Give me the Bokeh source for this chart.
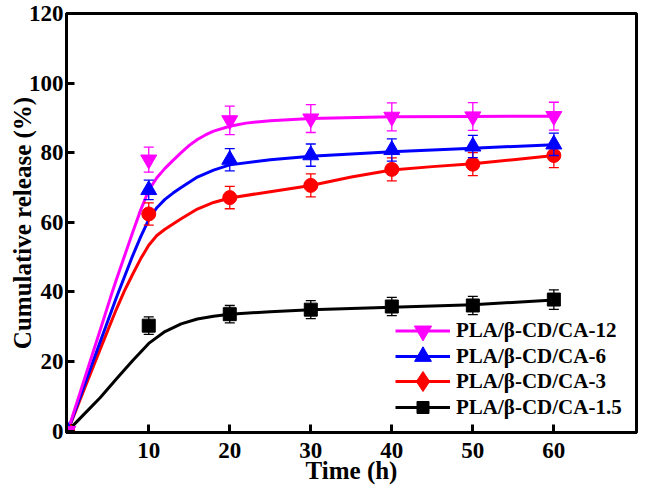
from bokeh.plotting import figure
from bokeh.models import ColumnDataSource, Legend, LegendItem, FixedTicker, Range1d
from bokeh.embed import file_html
from bokeh.resources import INLINE

# ---- measured points (time in h, cumulative release in %) ----
time_pts = [0, 10, 20, 30, 40, 50, 60]
ca12 = [0, 78.0, 89.3, 89.8, 90.3, 90.4, 90.5]
ca12_err = [0, 3.6, 4.1, 4.0, 4.0, 4.0, 4.0]
ca6 = [0, 69.3, 78.0, 79.3, 80.8, 81.8, 82.4]
ca6_err = [0, 2.8, 3.2, 3.2, 3.2, 3.2, 3.2]
ca3 = [0, 62.4, 67.1, 70.6, 75.2, 76.7, 79.2]
ca3_err = [0, 3.2, 3.2, 3.3, 3.3, 3.3, 3.5]
ca15 = [0, 30.3, 33.6, 34.9, 35.8, 36.1, 37.8]
ca15_err = [0, 2.5, 2.5, 2.6, 2.6, 2.6, 2.8]

# ---- fitted curves ----
fit12_t = [0, 2, 4, 5.5, 6, 8, 9, 10, 11, 12, 13, 14, 15, 16, 17, 18, 20, 22, 25, 30, 40, 50, 60]
fit12_y = [0, 14.5, 29, 40, 43.5, 57, 63.5, 69.2, 72.8, 75.5, 77.8, 80, 82.1, 83.8, 85.1, 86.2, 87.6, 88.5, 89.2, 89.8, 90.3, 90.4, 90.5]
fit6_t = [0, 2, 4, 6, 8, 9, 10, 11, 12, 13, 14, 16, 18, 20, 25, 30, 40, 50, 60]
fit6_y = [0, 12.8, 25.6, 38.3, 50.3, 55.8, 60.8, 64.2, 66.6, 68.4, 70, 73, 75, 76.5, 78, 79, 80.3, 81.3, 82.3]
fit3_t = [0, 2, 4, 6, 7, 8, 9, 10, 11, 12, 13, 14, 16, 18, 20, 25, 30, 35, 40, 45, 50, 55, 60]
fit3_y = [0, 11.8, 23.5, 35, 40.3, 45, 49.5, 53.4, 56.2, 58, 59.5, 61, 63.8, 65.7, 67, 68.8, 70.6, 73, 75, 76, 76.8, 78, 79.2]
fit15_t = [0, 2, 4, 6, 8, 10, 12, 14, 16, 18, 20, 25, 30, 40, 50, 60]
fit15_y = [0, 4.8, 9.6, 15, 20.2, 25.2, 28.6, 30.8, 32.2, 33, 33.6, 34.3, 34.9, 35.6, 36.3, 37.7]

x_ticks = [10, 20, 30, 40, 50, 60]
y_ticks = [0, 20, 40, 60, 80, 100, 120]
labels = ["PLA/\u03b2-CD/CA-12", "PLA/\u03b2-CD/CA-6", "PLA/\u03b2-CD/CA-3", "PLA/\u03b2-CD/CA-1.5"]

FONT = "Liberation Serif"

p = figure(width=638, height=486, output_backend="svg", toolbar_location=None,
           x_range=Range1d(-0.15, 70.2), y_range=Range1d(-0.4, 120),
           min_border_left=66, min_border_right=2, min_border_top=13, min_border_bottom=51)
p.background_fill_color = "white"
p.border_fill_color = "white"
p.outline_line_color = "black"
p.outline_line_width = 3
p.xgrid.visible = False
p.ygrid.visible = False

for ax in (p.xaxis[0], p.yaxis[0]):
    ax.axis_line_width = 3
    ax.major_tick_line_width = 3
    ax.major_tick_in = 8
    ax.major_tick_out = 0
    ax.minor_tick_line_color = None
    ax.major_label_text_font = FONT
    ax.major_label_text_font_style = "bold"
    ax.major_label_text_font_size = "23px"
    ax.major_label_text_color = "black"
    ax.axis_label_text_font = FONT
    ax.axis_label_text_font_style = "bold"
    ax.axis_label_text_font_size = "25px"
    ax.axis_label_text_color = "black"

p.xaxis.ticker = FixedTicker(ticks=x_ticks)
p.yaxis.ticker = FixedTicker(ticks=y_ticks)
p.xaxis.axis_label = "Time (h)"
p.yaxis.axis_label = "Cumulative release (%)"
p.xaxis.major_label_standoff = 10
p.xaxis.axis_label_standoff = -4
p.yaxis.major_label_standoff = 3
p.yaxis.axis_label_standoff = -10

series = [
    (fit12_t, fit12_y, ca12, ca12_err, "#FF00FF", "inverted_triangle", 16),
    (fit6_t, fit6_y, ca6, ca6_err, "#0000FF", "triangle", 16),
    (fit3_t, fit3_y, ca3, ca3_err, "#FF0000", "circle", 14),
    (fit15_t, fit15_y, ca15, ca15_err, "#000000", "square", 13),
]

line_rs = {}
for idx in [3, 2, 1, 0]:
    ft, fy, vals, errs, color, marker, size = series[idx]
    line_rs[idx] = p.line(ft, fy, line_color=color, line_width=3)

# red series' origin point drawn as a diamond (the legend symbol of that series)
red_origin = p.scatter(x=[time_pts[0]], y=[ca3[0]], marker="diamond",
                       size=14, fill_color="#FF0000", line_color="#FF0000")

marker_rs = {}
for idx in [3, 2, 1, 0]:
    ft, fy, vals, errs, color, marker, size = series[idx]
    up = [v + e for v, e in zip(vals, errs)]
    lo = [v - e for v, e in zip(vals, errs)]
    src = ColumnDataSource(dict(x=time_pts, y=vals, up=up, lo=lo))
    p.segment(x0="x", y0="lo", x1="x", y1="up", source=src, line_color=color, line_width=1.3)
    p.scatter(x="x", y="up", source=src, marker="dash", size=10, line_color=color, line_width=1.3)
    p.scatter(x="x", y="lo", source=src, marker="dash", size=10, line_color=color, line_width=1.3)
    marker_rs[idx] = p.scatter(x="x", y="y", source=src, marker=marker, size=size,
                               fill_color=color, line_color=color)

legend_marker_rs = {0: marker_rs[0], 1: marker_rs[1], 2: red_origin, 3: marker_rs[3]}
# one legend per row so that each row can carry a larger symbol at a 25.5 px pitch
row_center = {0: 102, 1: 76, 2: 51, 3: 25}
row_glyph_h = {0: 43, 1: 42, 2: 50, 3: 30}
for i in range(4):
    h = row_glyph_h[i]
    item = LegendItem(label=labels[i], renderers=[line_rs[i], legend_marker_rs[i]], index=0)
    lg = Legend(items=[item], location=(329, int(round(row_center[i] - h / 2))),
                orientation="vertical", glyph_width=55, glyph_height=h, spacing=0,
                padding=0, margin=0, label_height=h, label_standoff=6,
                label_text_font=FONT, label_text_font_style="bold",
                label_text_font_size="21px", label_text_color="black",
                border_line_color=None, background_fill_alpha=0)
    p.add_layout(lg)

open("out.html", "w").write(file_html(p, INLINE))
